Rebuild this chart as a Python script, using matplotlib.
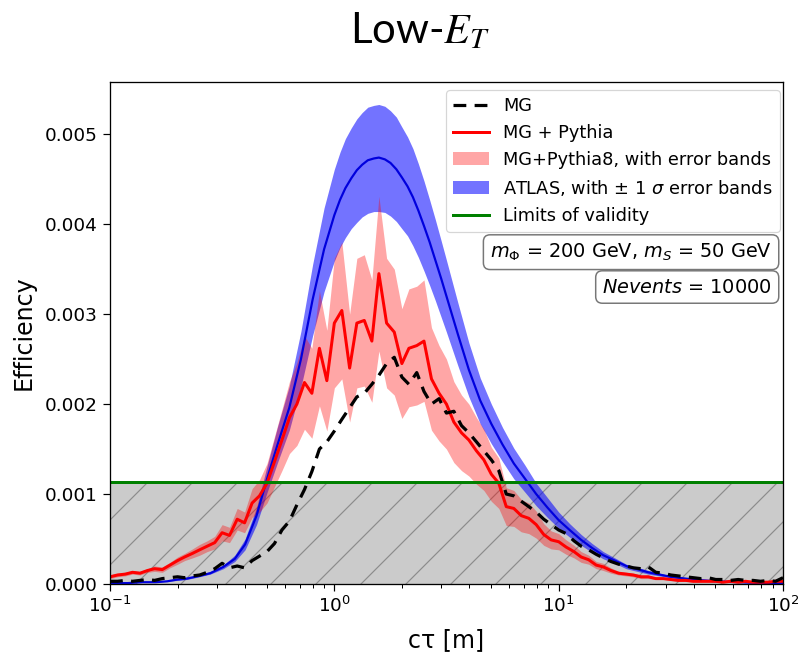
import matplotlib

matplotlib.use("Agg")
import matplotlib.pyplot as plt

# dpi chosen so the "/" hatch of the invalid region is as sparse as in the slide
DPI = 135


def pt(px):
    # pixel size -> points at the chosen dpi
    return px * 72.0 / DPI


# c*tau grid [m] for the MadGraph samples
ct_mc = [
    0.100, 0.108, 0.117, 0.126, 0.136, 0.147, 0.158, 0.171, 0.185, 0.200,
    0.215, 0.233, 0.251, 0.271, 0.293, 0.316, 0.341, 0.369, 0.398, 0.430,
    0.464, 0.501, 0.541, 0.584, 0.631, 0.681, 0.736, 0.794, 0.858, 0.926,
    1.00, 1.08, 1.17, 1.26, 1.36, 1.47, 1.58, 1.71, 1.85, 2.00,
    2.15, 2.33, 2.51, 2.71, 2.93, 3.16, 3.41, 3.69, 3.98, 4.30,
    4.64, 5.01, 5.41, 5.84, 6.31, 6.81, 7.36, 7.94, 8.58, 9.26,
    10.0, 10.8, 11.7, 12.6, 13.6, 14.7, 15.8, 17.1, 18.5, 20.0,
    21.5, 23.3, 25.1, 27.1, 29.3, 31.6, 34.1, 36.9, 39.8, 43.0,
    46.4, 50.1, 54.1, 58.4, 63.1, 68.1, 73.6, 79.4, 85.8, 92.6,
    100.0,
]

# MG only
mg = [
    0.00003, 0.00003, 0.00004, 0.00003, 0.00004, 0.00005, 0.00004, 0.00006, 0.00007, 0.00008,
    0.00007, 0.00009, 0.00010, 0.00013, 0.00017, 0.00023, 0.00018, 0.00020, 0.00018, 0.00026,
    0.00031, 0.00036, 0.00045, 0.00060, 0.00070, 0.00088, 0.00105, 0.00125, 0.00150, 0.00158,
    0.00170, 0.00183, 0.00196, 0.00208, 0.00212, 0.00222, 0.00232, 0.00245, 0.00252, 0.00230,
    0.00222, 0.00235, 0.00214, 0.00200, 0.00206, 0.00190, 0.00192, 0.00176, 0.00168, 0.00158,
    0.00148, 0.00138, 0.00126, 0.00100, 0.00098, 0.00092, 0.00086, 0.00080, 0.00072, 0.00066,
    0.00060, 0.00056, 0.00048, 0.00042, 0.00038, 0.00033, 0.00029, 0.00025, 0.00022, 0.00020,
    0.00018, 0.00017, 0.00019, 0.00013, 0.00012, 0.00010, 0.00009, 0.00008, 0.00007, 0.00006,
    0.00007, 0.00005, 0.00005, 0.00004, 0.00005, 0.00004, 0.00004, 0.00003, 0.00004, 0.00003,
    0.00007,
]

# MG + Pythia with its error band
mg_py = [
    0.00008, 0.00010, 0.00011, 0.00013, 0.00012, 0.00015, 0.00017, 0.00016, 0.00021, 0.00026,
    0.00030, 0.00034, 0.00038, 0.00042, 0.00046, 0.00057, 0.00054, 0.00072, 0.00068, 0.00090,
    0.00098, 0.00112, 0.00136, 0.00160, 0.00185, 0.00200, 0.00224, 0.00212, 0.00262, 0.00226,
    0.00290, 0.00304, 0.00240, 0.00290, 0.00293, 0.00270, 0.00345, 0.00290, 0.00280, 0.00245,
    0.00262, 0.00265, 0.00270, 0.00228, 0.00212, 0.00200, 0.00180, 0.00168, 0.00160, 0.00148,
    0.00138, 0.00122, 0.00112, 0.00086, 0.00084, 0.00076, 0.00073, 0.00066, 0.00055, 0.00049,
    0.00047, 0.00041, 0.00036, 0.00030, 0.00027, 0.00021, 0.00019, 0.00015, 0.00012, 0.00011,
    0.00010, 0.00008, 0.00008, 0.00006, 0.00006, 0.00005, 0.00004, 0.00004, 0.00003, 0.00003,
    0.00003, 0.00003, 0.00002, 0.00003, 0.00002, 0.00003, 0.00002, 0.00002, 0.00002, 0.00003,
    0.00003,
]
mg_py_lo = [
    0.00006, 0.00008, 0.00009, 0.00011, 0.00010, 0.00013, 0.00014, 0.00013, 0.00018, 0.00022,
    0.00026, 0.00029, 0.00032, 0.00036, 0.00039, 0.00048, 0.00046, 0.00060, 0.00057, 0.00074,
    0.00080, 0.00090, 0.00108, 0.00126, 0.00145, 0.00154, 0.00172, 0.00162, 0.00198, 0.00170,
    0.00218, 0.00228, 0.00180, 0.00218, 0.00220, 0.00202, 0.00259, 0.00218, 0.00210, 0.00184,
    0.00197, 0.00199, 0.00203, 0.00171, 0.00159, 0.00150, 0.00135, 0.00126, 0.00120, 0.00111,
    0.00104, 0.00092, 0.00084, 0.00065, 0.00064, 0.00058, 0.00056, 0.00051, 0.00043, 0.00039,
    0.00038, 0.00033, 0.00029, 0.00024, 0.00022, 0.00017, 0.00015, 0.00012, 0.00010, 0.00009,
    0.00008, 0.00006, 0.00006, 0.00005, 0.00005, 0.00004, 0.00003, 0.00003, 0.00002, 0.00002,
    0.00002, 0.00002, 0.00002, 0.00002, 0.00002, 0.00002, 0.00002, 0.00002, 0.00002, 0.00002,
    0.00002,
]
mg_py_hi = [
    0.00010, 0.00012, 0.00013, 0.00015, 0.00014, 0.00017, 0.00020, 0.00019, 0.00024, 0.00030,
    0.00034, 0.00039, 0.00044, 0.00048, 0.00053, 0.00066, 0.00063, 0.00084, 0.00080, 0.00106,
    0.00116, 0.00134, 0.00164, 0.00194, 0.00225, 0.00246, 0.00276, 0.00262, 0.00326, 0.00282,
    0.00362, 0.00380, 0.00300, 0.00362, 0.00366, 0.00338, 0.00431, 0.00362, 0.00350, 0.00306,
    0.00328, 0.00331, 0.00338, 0.00285, 0.00265, 0.00250, 0.00225, 0.00210, 0.00200, 0.00185,
    0.00172, 0.00152, 0.00140, 0.00107, 0.00104, 0.00094, 0.00090, 0.00081, 0.00067, 0.00059,
    0.00056, 0.00049, 0.00043, 0.00036, 0.00032, 0.00025, 0.00023, 0.00018, 0.00014, 0.00013,
    0.00012, 0.00010, 0.00010, 0.00007, 0.00007, 0.00006, 0.00005, 0.00005, 0.00004, 0.00004,
    0.00004, 0.00004, 0.00003, 0.00004, 0.00003, 0.00004, 0.00003, 0.00003, 0.00003, 0.00004,
    0.00004,
]

# ATLAS efficiency map with +-1 sigma band
ct_atlas = [
    0.10, 0.12, 0.14, 0.16, 0.18, 0.20, 0.22, 0.25, 0.28, 0.32,
    0.36, 0.40, 0.45, 0.50, 0.56, 0.63, 0.71, 0.80, 0.90, 1.00,
    1.06, 1.12, 1.19, 1.26, 1.33, 1.41, 1.50, 1.58, 1.68, 1.78,
    1.89, 2.00, 2.12, 2.24, 2.37, 2.51, 2.66, 2.82, 2.99, 3.16,
    3.55, 3.98, 4.47, 5.01, 5.62, 6.31, 7.08, 7.94, 8.91, 10.0,
    11.2, 12.6, 14.1, 15.8, 17.8, 20.0, 25.1, 31.6, 39.8, 50.1,
    63.1, 79.4, 100.0,
]
atlas = [
    0.00001, 0.00001, 0.00002, 0.00002, 0.00003, 0.00005, 0.00006, 0.00009, 0.00012, 0.00019,
    0.00028, 0.00044, 0.00076, 0.00116, 0.00156, 0.00196, 0.00250, 0.00316, 0.00372, 0.00410,
    0.00427, 0.00440, 0.00451, 0.00460, 0.00466, 0.00471, 0.00473, 0.00474, 0.00472, 0.00468,
    0.00461, 0.00452, 0.00442, 0.00430, 0.00415, 0.00398, 0.00380, 0.00360, 0.00340, 0.00320,
    0.00278, 0.00238, 0.00204, 0.00178, 0.00155, 0.00134, 0.00117, 0.00100, 0.00085, 0.00071,
    0.00060, 0.00049, 0.00040, 0.00032, 0.00026, 0.00020, 0.00013, 0.00008, 0.00005, 0.00003,
    0.00002, 0.00001, 0.00001,
]
atlas_lo = [
    0.00001, 0.00001, 0.00002, 0.00002, 0.00003, 0.00004, 0.00005, 0.00008, 0.00011, 0.00017,
    0.00025, 0.00038, 0.00066, 0.00101, 0.00136, 0.00171, 0.00219, 0.00276, 0.00325, 0.00359,
    0.00374, 0.00385, 0.00395, 0.00402, 0.00408, 0.00412, 0.00414, 0.00414, 0.00413, 0.00409,
    0.00403, 0.00395, 0.00387, 0.00376, 0.00363, 0.00348, 0.00332, 0.00315, 0.00297, 0.00280,
    0.00243, 0.00208, 0.00178, 0.00156, 0.00136, 0.00117, 0.00102, 0.00087, 0.00074, 0.00062,
    0.00052, 0.00043, 0.00035, 0.00028, 0.00023, 0.00017, 0.00011, 0.00007, 0.00004, 0.00003,
    0.00002, 0.00001, 0.00001,
]
atlas_hi = [
    0.00001, 0.00001, 0.00002, 0.00003, 0.00004, 0.00006, 0.00007, 0.00010, 0.00014, 0.00021,
    0.00032, 0.00050, 0.00085, 0.00130, 0.00176, 0.00220, 0.00281, 0.00355, 0.00418, 0.00461,
    0.00480, 0.00495, 0.00507, 0.00517, 0.00524, 0.00530, 0.00532, 0.00533, 0.00531, 0.00526,
    0.00519, 0.00508, 0.00497, 0.00484, 0.00467, 0.00448, 0.00427, 0.00405, 0.00382, 0.00360,
    0.00313, 0.00268, 0.00229, 0.00200, 0.00174, 0.00151, 0.00132, 0.00112, 0.00096, 0.00080,
    0.00067, 0.00055, 0.00045, 0.00036, 0.00029, 0.00022, 0.00015, 0.00009, 0.00006, 0.00003,
    0.00002, 0.00001, 0.00001,
]

validity = 0.00113

plt.rcParams["hatch.linewidth"] = pt(1.2)
plt.rcParams["hatch.color"] = "#8c8c8c"

fig = plt.figure(figsize=(805 / DPI, 656 / DPI), dpi=DPI)
ax = fig.add_axes([110 / 805, 72 / 656, 673 / 805, 502 / 656])

# region below the limit of validity
ax.axhspan(0, validity, facecolor="#cbcbcb", edgecolor="#8c8c8c", hatch="/",
           linewidth=0, zorder=0.5)

h_atlas = ax.fill_between(ct_atlas, atlas_lo, atlas_hi, color="blue", alpha=0.55,
                          linewidth=0, label=r"ATLAS, with $\pm$ 1 $\sigma$ error bands")
ax.plot(ct_atlas, atlas, color="#0000dd", lw=pt(2.2))
h_band = ax.fill_between(ct_mc, mg_py_lo, mg_py_hi, color="red", alpha=0.35,
                         linewidth=0, label="MG+Pythia8, with error bands")
(h_py,) = ax.plot(ct_mc, mg_py, color="red", lw=pt(3), label="MG + Pythia")
(h_mg,) = ax.plot(ct_mc, mg, color="black", lw=pt(3.2), ls=(0, (4, 2.6)), label="MG")
h_val = ax.axhline(validity, color="green", lw=pt(3), label="Limits of validity")

ax.set_xscale("log")
ax.set_xlim(0.1, 100)
ax.set_ylim(0, 0.00558)

ax.tick_params(which="major", labelsize=pt(18.5), length=pt(7), width=pt(1.2), pad=pt(5))
ax.tick_params(which="minor", length=pt(4), width=pt(1.0))
for s in ax.spines.values():
    s.set_linewidth(pt(1.3))

ax.set_xlabel("cτ [m]", fontsize=pt(23.8), labelpad=pt(12))
ax.set_ylabel("Efficiency", fontsize=pt(23.8), labelpad=pt(9))

leg = ax.legend(
    [h_mg, h_py, h_band, h_atlas, h_val],
    ["MG", "MG + Pythia", "MG+Pythia8, with error bands",
     r"ATLAS, with $\pm$ 1 $\sigma$ error bands", "Limits of validity"],
    loc="upper right", bbox_to_anchor=(0.9955, 0.984), borderaxespad=0,
    fontsize=pt(17.8),
)
leg.get_frame().set_linewidth(pt(1.2))

box = dict(boxstyle="round,pad=0.35", fc="white", ec="#777777", lw=pt(1.5))
ax.text(0.9837, 0.661, r"$m_{\Phi}$ = 200 GeV, $m_S$ = 50 GeV", transform=ax.transAxes,
        ha="right", va="center", fontsize=pt(19.2), bbox=box)
ax.text(0.9837, 0.5916, r"$Nevents$ = 10000", transform=ax.transAxes,
        ha="right", va="center", fontsize=pt(19.2), bbox=box)

fig.text(420 / 805, 1 - 43 / 656, "Low-$E_T$", ha="center", va="baseline",
         family="Lato", math_fontfamily="stix", fontsize=pt(42))

fig.savefig("out.png", dpi=DPI)
